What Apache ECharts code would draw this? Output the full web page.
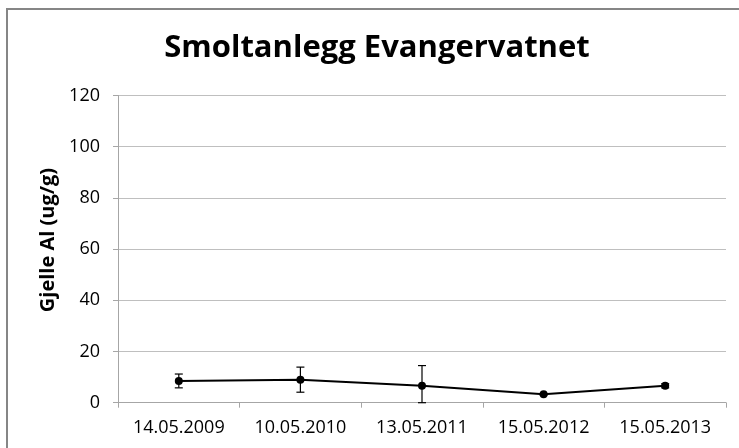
<!DOCTYPE html>
<html>
<head>
<meta charset="utf-8">
<script src="https://cdn.jsdelivr.net/npm/echarts@6/dist/echarts.min.js"></script>
<style>
html, body { margin: 0; padding: 0; background: #fff; }
#main { width: 739px; height: 448px; }
</style>
</head>
<body>
<div id="main"></div>
<script>
const dates = ['14.05.2009', '10.05.2010', '13.05.2011', '15.05.2012', '15.05.2013'];
const alValues = [8.5, 9.0, 6.6, 3.3, 6.6];
const alErrors = [2.7, 4.9, 7.9, 0.3, 0.8];
const yTicks = [0, 20, 40, 60, 80, 100, 120];

const chart = echarts.init(document.getElementById('main'));
const font = '"Open Sans", "Noto Sans", sans-serif';

// error bar data: [index, low, high]
const errorData = alValues.map(function (v, i) {
  return [i, Math.max(0, v - alErrors[i]), v + alErrors[i]];
});

const option = {
  animation: false,
  backgroundColor: '#fff',
  title: {
    text: 'Smoltanlegg Evangervatnet',
    left: 372,
    top: 28,
    textAlign: 'center',
    textStyle: { fontFamily: font, fontWeight: 'bold', fontSize: 31, color: '#000' }
  },
  graphic: [
    {
      type: 'rect',
      shape: { x: 7, y: 9, width: 800, height: 500 },
      style: { fill: 'none', stroke: '#868686', lineWidth: 2 },
      silent: true
    },
    {
      type: 'text',
      x: 48,
      y: 240,
      rotation: Math.PI / 2,
      style: {
        text: 'Gjelle Al (ug/g)',
        fontFamily: font,
        fontWeight: 'bold',
        fontSize: 20,
        fill: '#000',
        align: 'center',
        verticalAlign: 'middle'
      }
    }
  ],
  grid: { left: 118, right: 13, top: 95.5, bottom: 45.3 },
  xAxis: {
    type: 'category',
    data: dates,
    boundaryGap: true,
    axisLine: { lineStyle: { color: '#a6a6a6', width: 1 } },
    axisTick: { show: true, length: 5, lineStyle: { color: '#a6a6a6' } },
    axisLabel: { fontFamily: font, fontSize: 18, color: '#000', margin: 16 }
  },
  yAxis: {
    type: 'value',
    min: yTicks[0],
    max: yTicks[yTicks.length - 1],
    interval: 20,
    axisLine: { show: true, lineStyle: { color: '#a6a6a6', width: 1 } },
    axisTick: { show: true, length: 5, lineStyle: { color: '#a6a6a6' } },
    splitLine: { lineStyle: { color: '#bfbfbf', width: 1 } },
    axisLabel: { fontFamily: font, fontSize: 18, color: '#000', margin: 18 }
  },
  series: [
    {
      name: 'Al',
      type: 'line',
      data: alValues,
      symbol: 'circle',
      symbolSize: 8,
      itemStyle: { color: '#000' },
      lineStyle: { color: '#000', width: 2 },
      z: 3
    },
    {
      name: 'error',
      type: 'custom',
      data: errorData,
      z: 2,
      renderItem: function (params, api) {
        const i = api.value(0);
        const lo = api.coord([i, api.value(1)]);
        const hi = api.coord([i, api.value(2)]);
        const w = 4;
        const style = { stroke: '#000', lineWidth: 1.2, fill: null };
        return {
          type: 'group',
          children: [
            { type: 'line', shape: { x1: lo[0], y1: lo[1], x2: hi[0], y2: hi[1] }, style: style },
            { type: 'line', shape: { x1: hi[0] - w, y1: hi[1], x2: hi[0] + w, y2: hi[1] }, style: style },
            { type: 'line', shape: { x1: lo[0] - w, y1: lo[1], x2: lo[0] + w, y2: lo[1] }, style: style }
          ]
        };
      }
    }
  ]
};
chart.setOption(option);
</script>
</body>
</html>
